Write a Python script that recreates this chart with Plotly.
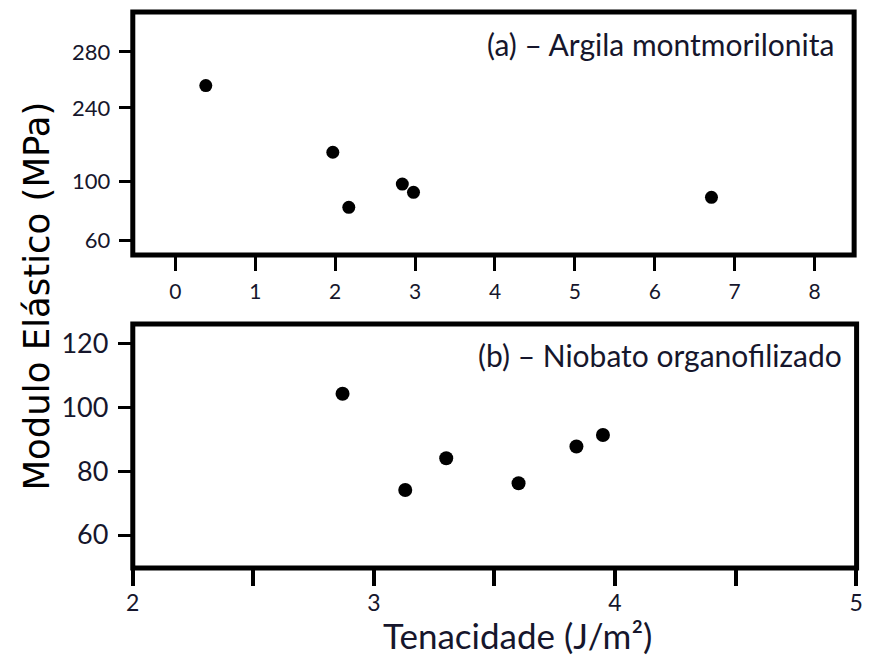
import numpy as np
import plotly.graph_objects as go

# ---- data -------------------------------------------------------------
# (a) clay filler (montmorillonite)
argila_tenacidade = [0.38, 1.97, 2.17, 2.84, 2.98, 6.71]
argila_modulo = [256, 156, 82.6, 98.4, 92.8, 89.4]

# (b) organophilised niobate filler
niobato_tenacidade = [2.87, 3.13, 3.30, 3.60, 3.84, 3.95]
niobato_modulo = [104.2, 74.1, 84.0, 76.2, 87.7, 91.3]

top_x_ticks = [0, 1, 2, 3, 4, 5, 6, 7, 8]
top_y_ticks = [60, 100, 240, 280]
bottom_x_ticks = [2, 2.5, 3, 3.5, 4, 4.5, 5]
bottom_x_labels = ["2", "", "3", "", "4", "", "5"]
bottom_y_ticks = [60, 80, 100, 120]

# the upper panel uses a broken (piecewise compressed) modulus axis
TOP_BREAK_VALUES = [60, 100, 240, 280]
TOP_BREAK_COORDS = [0, 40, 90, 128]


def top_scale(v):
    return np.interp(v, TOP_BREAK_VALUES, TOP_BREAK_COORDS)


# ---- layout helpers (pixel geometry of the page) ----------------------
W, H = 869, 658


def px_x(p):
    return p / W


def px_y(p):
    return 1 - p / H


TEXT = "#16162c"
TICK_FONT = "Lato"

fig = go.Figure()

fig.add_trace(go.Scatter(
    x=argila_tenacidade, y=top_scale(argila_modulo),
    mode="markers", marker=dict(color="black", size=13),
    xaxis="x", yaxis="y", showlegend=False,
))
fig.add_trace(go.Scatter(
    x=niobato_tenacidade, y=niobato_modulo,
    mode="markers", marker=dict(color="black", size=14),
    xaxis="x2", yaxis="y2", showlegend=False,
))

top_dom_x = [px_x(127.7), px_x(860)]
top_dom_y = [px_y(255), px_y(12)]
bot_dom_x = [px_x(127.7), px_x(862.5)]
bot_dom_y = [px_y(568), px_y(324)]

fig.update_layout(
    width=W, height=H,
    margin=dict(l=0, r=0, t=0, b=0),
    paper_bgcolor="white", plot_bgcolor="white",
    xaxis=dict(
        domain=top_dom_x, anchor="y", range=[-0.534, 8.496],
        tickvals=top_x_ticks, ticks="outside", ticklen=15, tickwidth=3,
        tickcolor="black", showgrid=False, zeroline=False, showline=False,
        tickfont=dict(family=TICK_FONT, size=21, color=TEXT),
        ticklabelstandoff=3,
    ),
    yaxis=dict(
        domain=top_dom_y, anchor="x", range=[-9.7, 155.1],
        tickvals=list(top_scale(top_y_ticks)),
        ticktext=[str(t) for t in top_y_ticks],
        ticks="outside", ticklen=13, tickwidth=3, tickcolor="black",
        showgrid=False, zeroline=False, showline=False,
        tickfont=dict(family=TICK_FONT, size=22, color=TEXT),
        ticklabelstandoff=4,
    ),
    xaxis2=dict(
        domain=bot_dom_x, anchor="y2", range=[2, 5.002],
        tickvals=bottom_x_ticks, ticktext=bottom_x_labels,
        ticks="outside", ticklen=17, tickwidth=4, tickcolor="black",
        showgrid=False, zeroline=False, showline=False,
        tickfont=dict(family=TICK_FONT, size=23, color=TEXT),
        ticklabelstandoff=-3, ticklabeloverflow="allow",
    ),
    yaxis2=dict(
        domain=bot_dom_y, anchor="x2", range=[49.67, 126.04],
        tickvals=bottom_y_ticks, ticks="outside", ticklen=14, tickwidth=3,
        tickcolor="black", showgrid=False, zeroline=False, showline=False,
        tickfont=dict(family=TICK_FONT, size=27, color=TEXT),
        ticklabelstandoff=4,
    ),
)

# heavy black frames around both panels
for dx, dy in ((top_dom_x, top_dom_y), (bot_dom_x, bot_dom_y)):
    fig.add_shape(
        type="rect", xref="paper", yref="paper",
        x0=dx[0], x1=dx[1], y0=dy[0], y1=dy[1],
        line=dict(color="black", width=5), layer="above",
    )

fig.add_annotation(
    text="(a) – Argila montmorilonita", xref="paper", yref="paper",
    x=px_x(842), y=px_y(44), xanchor="right", yanchor="middle",
    showarrow=False, font=dict(family=TICK_FONT, size=30, color=TEXT),
)
fig.add_annotation(
    text="(b) – Niobato organofilizado", xref="paper", yref="paper",
    x=px_x(850), y=px_y(355), xanchor="right", yanchor="middle",
    showarrow=False, font=dict(family=TICK_FONT, size=30, color=TEXT),
)
fig.add_annotation(
    text="Modulo Elástico (MPa)", xref="paper", yref="paper",
    x=px_x(30), y=px_y(296), xanchor="center", yanchor="middle",
    textangle=-90, showarrow=False,
    font=dict(family="DejaVu Sans", size=35.5, color="black"),
)
fig.add_annotation(
    text="Tenacidade (J/m²)", xref="paper", yref="paper",
    x=px_x(518), y=0, xanchor="center", yanchor="bottom",
    showarrow=False, font=dict(family=TICK_FONT, size=35, color=TEXT),
)

fig.write_html("out.html")
